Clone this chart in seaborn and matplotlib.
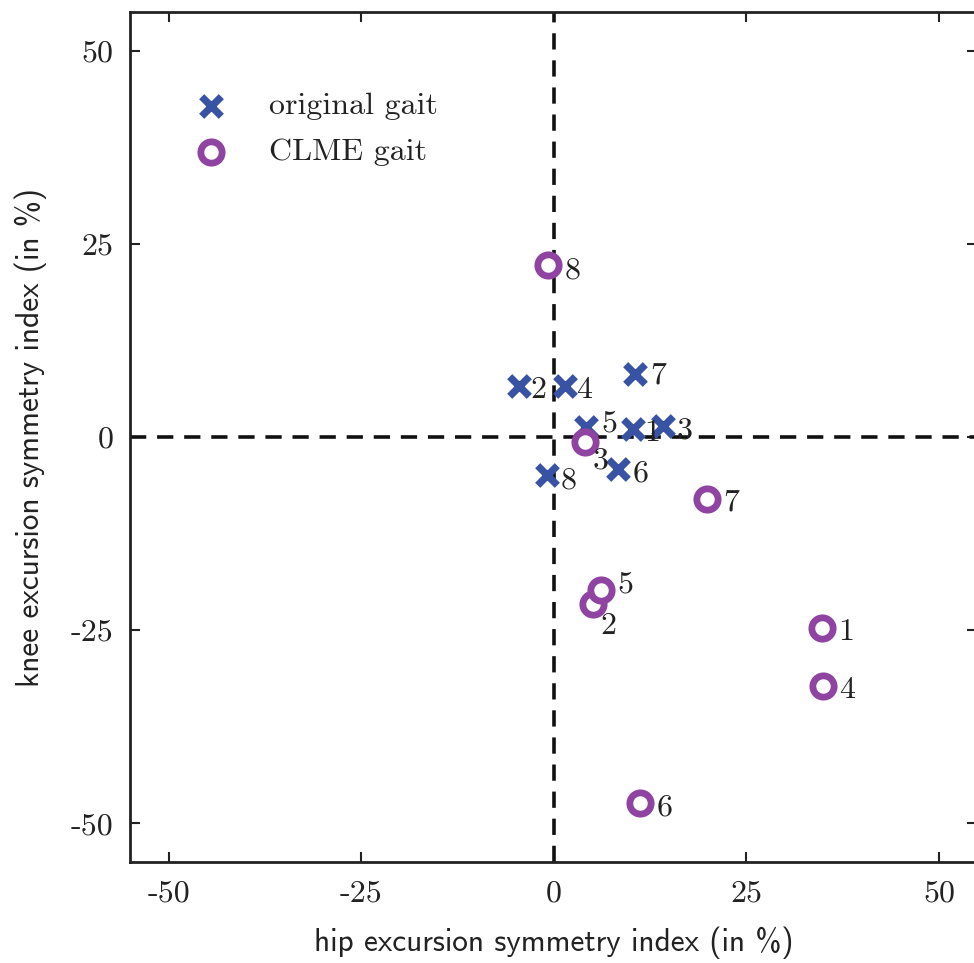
import matplotlib
matplotlib.use("Agg")
import matplotlib.pyplot as plt
import seaborn as sns
import numpy as np

# Data
subjects = ["1", "2", "3", "4", "5", "6", "7", "8"]
orig_hip = [10.3, -4.5, 14.2, 1.4, 4.2, 8.3, 10.6, -0.9]
orig_knee = [1.0, 6.6, 1.4, 6.6, 1.3, -4.1, 8.1, -4.9]
clme_hip = [34.8, 5.1, 4.0, 34.9, 6.1, 11.2, 19.9, -0.8]
clme_knee = [-24.7, -21.6, -0.6, -32.2, -19.8, -47.4, -8.0, 22.2]
ticks = [-50, -25, 0, 25, 50]
tick_labels = ["-50", "-25", "0", "25", "50"]

sns.set_style("white")
BLUE = "#3953a4"
PURPLE = "#8e44a0"
SERIF = ["cmr10", "DejaVu Serif"]
SANS = ["cmss10", "DejaVu Sans"]
FS = 23

fig = plt.figure(figsize=(9.74, 9.63), dpi=100)
ax = fig.add_axes([130 / 974, 1 - 862 / 963, (977.5 - 130) / 974, (862 - 12) / 963])

ax.axhline(0, color="#111111", lw=2.6, ls=(0, (4.5, 3)), zorder=1)
ax.axvline(0, color="#111111", lw=2.6, ls=(0, (4.5, 3)), zorder=1)

sns.scatterplot(x=orig_hip, y=orig_knee, marker="x", s=200, color=BLUE,
                linewidth=5.2, ax=ax, label="original gait", zorder=3)
sns.scatterplot(x=clme_hip, y=clme_knee, marker="o", s=235, facecolor="white",
                edgecolor=PURPLE, linewidth=4.9, ax=ax, label="CLME gait", zorder=3)

# label offsets in points (dx, dy)
orig_off = {"1": (8, -3), "2": (8, -3), "3": (10, -3), "4": (8, -3),
            "5": (11, 2), "6": (11, -4), "7": (11, -1), "8": (10, -4)}
clme_off = {"1": (12, -3), "2": (5, -16), "3": (6, -14), "4": (12, -3),
            "5": (12, 4), "6": (12, -3), "7": (12, -3), "8": (12, -4)}
for s, x, y in zip(subjects, orig_hip, orig_knee):
    ax.annotate(s, (x, y), xytext=orig_off[s], textcoords="offset points",
                va="center", ha="left", fontsize=FS, color="#222222", family=SERIF, zorder=4)
for s, x, y in zip(subjects, clme_hip, clme_knee):
    ax.annotate(s, (x, y), xytext=clme_off[s], textcoords="offset points",
                va="center", ha="left", fontsize=FS, color="#222222", family=SERIF, zorder=4)

ax.set_xlim(-55, 55)
ax.set_ylim(-55, 55)
ax.set_xticks(ticks)
ax.set_yticks(ticks)
ax.set_xticklabels(tick_labels, family=SERIF, fontsize=FS, color="#222222")
ax.set_yticklabels(tick_labels, family=SERIF, fontsize=FS, color="#222222")
ax.tick_params(direction="in", length=7, width=1.5, top=True, right=True,
               bottom=True, left=True, pad=12, colors="#222222")
ax.tick_params(axis="x", pad=13)
for sp in ax.spines.values():
    sp.set_linewidth(2)
    sp.set_color("#222222")
    sp.set_visible(True)

ax.set_xlabel("hip excursion symmetry index (in %)", family=SANS, fontsize=22.5,
              color="#222222", labelpad=14)
ax.set_ylabel("knee excursion symmetry index (in %)", family=SANS, fontsize=22.5,
              color="#222222", labelpad=17)

leg = ax.legend(loc="upper left", bbox_to_anchor=(0.043, 0.921), frameon=False,
                prop={"family": SERIF, "size": FS},
                handletextpad=0.8, labelspacing=0.55, borderaxespad=0)
for t in leg.get_texts():
    t.set_color("#222222")

fig.savefig("out.png", dpi=100)
